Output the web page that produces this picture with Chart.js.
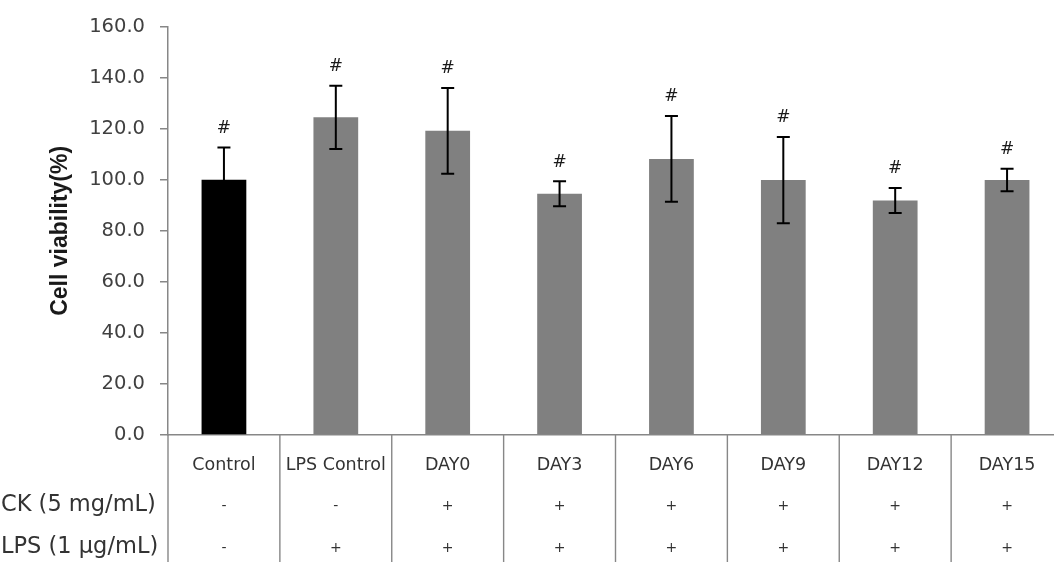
<!DOCTYPE html>
<html>
<head>
<meta charset="utf-8">
<script src="https://cdn.jsdelivr.net/npm/chart.js@4.4.0/dist/chart.umd.min.js"></script>
<style>
  html, body { margin: 0; padding: 0; background: #fff; overflow: hidden; }
  #wrap { width: 1064px; height: 562px; }
</style>
</head>
<body>
<div id="wrap"><canvas id="c" width="1064" height="562"></canvas></div>
<script>
// Groups, mean cell viability (%) and standard deviations
const categories = ['Control', 'LPS Control', 'DAY0', 'DAY3', 'DAY6', 'DAY9', 'DAY12', 'DAY15'];
const viability  = [100.0, 124.5, 119.2, 94.5, 108.2, 99.9, 91.9, 99.9];
const sdev       = [12.7, 12.4, 16.8, 4.9, 16.8, 16.9, 4.9, 4.4];
const sigMarks   = ['#', '#', '#', '#', '#', '#', '#', '#'];

// Treatment table under the axis
const rowLabels = ['CK (5 mg/mL)', 'LPS (1 μg/mL)'];
const ckRow     = ['-', '-', '+', '+', '+', '+', '+', '+'];
const lpsRow    = ['-', '+', '+', '+', '+', '+', '+', '+'];

// Y axis range
const yMin = 0, yMax = 160, yStep = 20;

const AXIS_GRAY = '#878787';
const BAR_COLORS = ['#000000', '#808080', '#808080', '#808080', '#808080', '#808080', '#808080', '#808080'];

const errorBars = {
  id: 'errorBars',
  afterDatasetsDraw(chart) {
    const { ctx, scales: { x, y } } = chart;
    ctx.save();
    ctx.strokeStyle = '#000';
    ctx.lineWidth = 2;
    viability.forEach((v, i) => {
      const cx = x.getPixelForValue(i);
      const top = y.getPixelForValue(v + sdev[i]);
      const bot = y.getPixelForValue(v - sdev[i]);
      ctx.beginPath();
      ctx.moveTo(cx, top); ctx.lineTo(cx, bot);
      ctx.moveTo(cx - 6.5, top); ctx.lineTo(cx + 6.5, top);
      ctx.moveTo(cx - 6.5, bot); ctx.lineTo(cx + 6.5, bot);
      ctx.stroke();
      ctx.fillStyle = '#1a1a1a';
      ctx.font = '17px "DejaVu Sans"';
      ctx.textAlign = 'center';
      ctx.textBaseline = 'middle';
      ctx.fillText(sigMarks[i], cx, top - 19);
    });
    ctx.restore();
  }
};

const treatmentTable = {
  id: 'treatmentTable',
  afterDraw(chart) {
    const { ctx, scales: { x, y } } = chart;
    const H = chart.height;
    ctx.save();
    // column separators
    ctx.strokeStyle = AXIS_GRAY;
    ctx.lineWidth = 1.4;
    for (let i = 0; i <= categories.length; i++) {
      let bx;
      if (i === 0) bx = x.left;
      else if (i === categories.length) bx = x.right;
      else bx = (x.getPixelForValue(i - 1) + x.getPixelForValue(i)) / 2;
      ctx.beginPath();
      ctx.moveTo(bx, y.bottom);
      ctx.lineTo(bx, H);
      ctx.stroke();
    }
    ctx.textBaseline = 'middle';
    ctx.textAlign = 'center';
    ctx.fillStyle = '#333';
    categories.forEach((c, i) => {
      const cx = x.getPixelForValue(i);
      ctx.font = '17.5px "DejaVu Sans"';
      ctx.fillText(c, cx, 465);
      ctx.font = '14px "DejaVu Sans"';
      ctx.fillText(ckRow[i], cx, 506);
      ctx.fillText(lpsRow[i], cx, 548);
    });
    ctx.textAlign = 'left';
    ctx.font = '22.5px "DejaVu Sans"';
    ctx.fillText(rowLabels[0], 1, 505);
    ctx.fillText(rowLabels[1], 1, 547);
    ctx.restore();
  }
};

new Chart(document.getElementById('c'), {
  type: 'bar',
  data: {
    labels: categories,
    datasets: [{
      data: viability,
      backgroundColor: BAR_COLORS,
      borderWidth: 0,
      barPercentage: 0.40,
      categoryPercentage: 1.0
    }]
  },
  options: {
    responsive: false,
    animation: false,
    layout: { padding: { top: 19, bottom: 127, left: 0, right: 1 } },
    plugins: { legend: { display: false }, tooltip: { enabled: false } },
    scales: {
      x: {
        ticks: { display: false },
        grid: { display: false },
        border: { display: true, color: AXIS_GRAY, width: 1.5 },
        afterFit(s) { s.height = 0; }
      },
      y: {
        min: yMin,
        max: yMax,
        ticks: {
          stepSize: yStep,
          padding: 15,
          color: '#404040',
          font: { family: 'DejaVu Sans', size: 19.5 },
          callback: v => Number(v).toFixed(1)
        },
        grid: { drawOnChartArea: false, drawTicks: true, tickLength: 8, color: AXIS_GRAY, lineWidth: 1.5 },
        border: { display: true, color: AXIS_GRAY, width: 1.5 },
        title: {
          display: true,
          text: 'Cell viability(%)',
          color: '#1a1a1a',
          font: { family: 'Liberation Sans', size: 23, weight: 'bold' },
          padding: { top: 47, bottom: 0 }
        },
        afterFit(s) { s.width = 168; }
      }
    }
  },
  plugins: [errorBars, treatmentTable]
});
</script>
</body>
</html>
